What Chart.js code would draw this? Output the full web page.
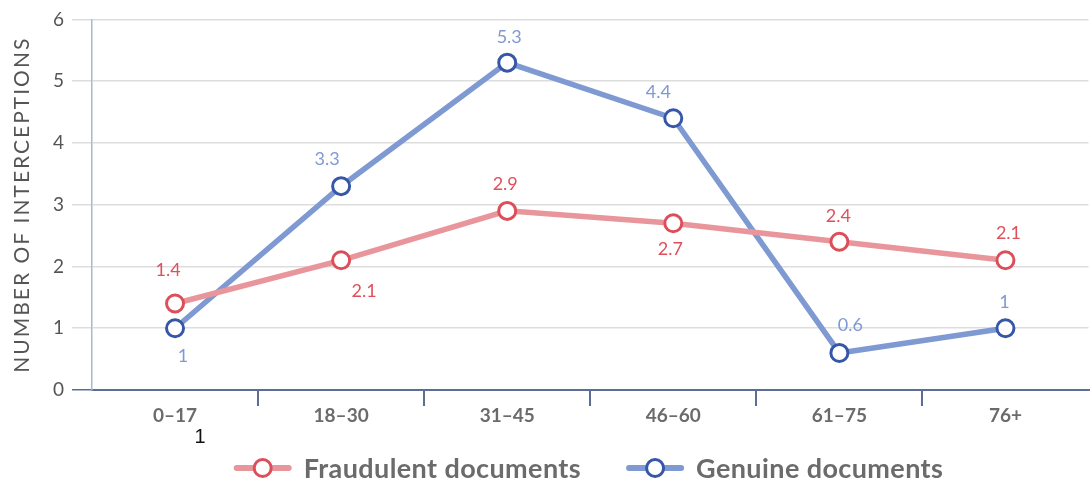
<!DOCTYPE html>
<html>
<head>
<meta charset="utf-8">
<script src="https://cdn.jsdelivr.net/npm/chart.js@4/dist/chart.umd.min.js"></script>
<style>
  html, body { margin: 0; padding: 0; background: #ffffff; overflow: hidden; }
  #wrap { position: relative; width: 1092px; height: 483px; overflow: hidden; }
  #c { display: block; }
</style>
</head>
<body>
<div id="wrap"><canvas id="c" width="1100" height="483"></canvas></div>
<script>
// Age groups on the x axis
const ageGroups = ['0–17', '18–30', '31–45', '46–60', '61–75', '76+'];

// Interceptions per age group
const fraudulentDocs = [1.4, 2.1, 2.9, 2.7, 2.4, 2.1];
const genuineDocs = [1, 3.3, 5.3, 4.4, 0.6, 1];

// Y axis tick values
const yTicks = [0, 1, 2, 3, 4, 5, 6];

const seriesNames = ['Fraudulent documents', 'Genuine documents'];
const yTitle = 'NUMBER OF INTERCEPTIONS';

const FONT = 'Lato, "Open Sans", sans-serif';

const RED_LINE = '#e8969b';
const RED_POINT = '#dc4f5a';
const RED_TEXT = '#e0505a';
const BLUE_LINE = '#7f99d3';
const BLUE_POINT = '#3657a8';
const BLUE_TEXT = '#7f99d3';

// Offsets of each value label from its point
const labelOffsets = [
  [[-7, -33], [23, 31], [-2, -27], [-3, 26], [-1, -26], [3, -27]],
  [[8, 28], [-14, -27], [2, -25], [-15, -26], [11, -28], [-1, -26]]
];

const valueLabels = {
  id: 'valueLabels',
  afterDatasetsDraw(chart) {
    const ctx = chart.ctx;
    ctx.save();
    ctx.font = '18px ' + FONT;
    ctx.textAlign = 'center';
    ctx.textBaseline = 'middle';
    chart.data.datasets.forEach((ds, di) => {
      const meta = chart.getDatasetMeta(di);
      ctx.fillStyle = ds.labelColor;
      meta.data.forEach((pt, i) => {
        const off = labelOffsets[di][i];
        ctx.fillText(String(ds.data[i]), pt.x + off[0], pt.y + off[1]);
      });
    });
    ctx.restore();
  }
};

// Axis title, legend and footnote marker
const extras = {
  id: 'extras',
  afterDraw(chart) {
    const ctx = chart.ctx;
    const area = chart.chartArea;

    // rotated y axis title
    ctx.save();
    ctx.font = '21px ' + FONT;
    ctx.letterSpacing = '2px';
    ctx.fillStyle = '#555555';
    ctx.textAlign = 'center';
    ctx.textBaseline = 'middle';
    ctx.translate(22, (area.top + area.bottom) / 2);
    ctx.rotate(-Math.PI / 2);
    ctx.fillText(yTitle, 0, 0);
    ctx.restore();

    // legend: line swatch with a ring, then bold series name
    ctx.save();
    ctx.font = 'bold 27px ' + FONT;
    ctx.letterSpacing = '0.4px';
    ctx.textBaseline = 'middle';
    const sw = 52, gap = 15, itemGap = 48;
    const items = chart.data.datasets.map(ds => ({ ds, w: sw + gap + ctx.measureText(ds.label).width }));
    const total = items.reduce((s, it) => s + it.w, 0) + itemGap * (items.length - 1);
    let x = 590 - total / 2;
    const y = 468;
    items.forEach(it => {
      ctx.strokeStyle = it.ds.borderColor;
      ctx.lineWidth = 6;
      ctx.lineCap = 'round';
      ctx.beginPath();
      ctx.moveTo(x, y);
      ctx.lineTo(x + sw, y);
      ctx.stroke();
      ctx.beginPath();
      ctx.arc(x + sw / 2, y, 8.5, 0, Math.PI * 2);
      ctx.fillStyle = '#ffffff';
      ctx.fill();
      ctx.lineWidth = 3;
      ctx.strokeStyle = it.ds.pointBorderColor;
      ctx.stroke();
      ctx.fillStyle = '#6b6b6b';
      ctx.textAlign = 'left';
      ctx.fillText(it.ds.label, x + sw + gap, y + 1);
      x += it.w + itemGap;
    });
    ctx.restore();

    // footnote marker under the first age group
    ctx.save();
    ctx.font = '20px "Liberation Sans", Arial, sans-serif';
    ctx.fillStyle = '#111111';
    ctx.textAlign = 'center';
    ctx.textBaseline = 'middle';
    ctx.fillText('1', 200, 437);
    ctx.restore();
  }
};

new Chart(document.getElementById('c'), {
  type: 'line',
  data: {
    labels: ageGroups,
    datasets: [
      {
        label: seriesNames[0],
        data: fraudulentDocs,
        borderColor: RED_LINE,
        pointBorderColor: RED_POINT,
        pointBackgroundColor: '#ffffff',
        labelColor: RED_TEXT,
        borderWidth: 5.5,
        pointRadius: 8.5,
        pointBorderWidth: 3,
        tension: 0
      },
      {
        label: seriesNames[1],
        data: genuineDocs,
        borderColor: BLUE_LINE,
        pointBorderColor: BLUE_POINT,
        pointBackgroundColor: '#ffffff',
        labelColor: BLUE_TEXT,
        borderWidth: 5.5,
        pointRadius: 8.5,
        pointBorderWidth: 3,
        tension: 0
      }
    ]
  },
  options: {
    responsive: false,
    animation: false,
    layout: { padding: { top: 17, right: 4, bottom: 0, left: 0 } },
    plugins: {
      legend: { display: false },
      tooltip: { enabled: false }
    },
    scales: {
      x: {
        offset: true,
        afterFit(scale) { scale.height = 93; },
        grid: {
          offset: true,
          drawOnChartArea: false,
          drawTicks: true,
          tickLength: 16,
          lineWidth: 2,
          color: (c) => (c.type === 'tick' && c.index > 0) ? '#5b6f94' : 'rgba(0,0,0,0)'
        },
        border: { display: true, color: '#5b6f94', width: 2 },
        ticks: {
          color: '#6b6b6b',
          padding: -2,
          font: { family: FONT, size: 19, weight: 'bold' }
        }
      },
      y: {
        min: 0,
        max: 6,
        afterFit(scale) { scale.width = 92; },
        afterBuildTicks(scale) { scale.ticks = yTicks.map(v => ({ value: v })); },
        grid: {
          color: (c) => (c.tick && c.tick.value === 0) ? '#5b6f94' : '#dddddd',
          lineWidth: 1.5,
          tickLength: 20,
          drawTicks: true
        },
        border: { display: true, color: '#a9b8cc', width: 1.5 },
        ticks: {
          color: '#555555',
          padding: 8,
          font: { family: FONT, size: 19 }
        },
        title: { display: false }
      }
    }
  },
  plugins: [valueLabels, extras]
});
</script>
</body>
</html>
